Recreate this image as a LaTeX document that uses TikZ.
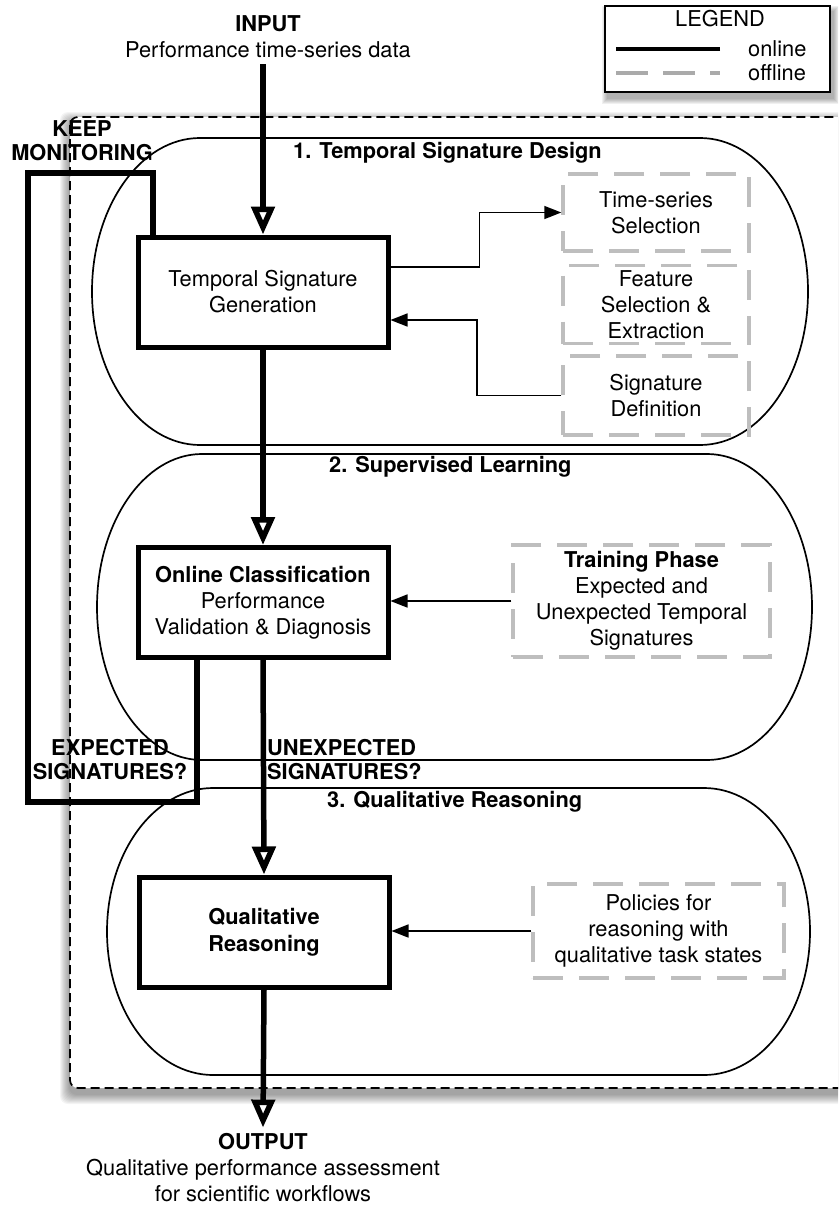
\documentclass[tikz,border=0pt]{standalone}
\usepackage{fontspec}
\setmainfont{TeX Gyre Heros}
\usepackage{tikz}
\usetikzlibrary{arrows.meta,positioning,calc}
\definecolor{cOffline}{RGB}{190,190,190}
\definecolor{cLegOff}{RGB}{170,170,170}

\begin{document}
\begin{tikzpicture}[x=1pt, y=-1pt,
  every node/.style={font=\fontsize{21.8}{26}\selectfont, align=center, inner sep=0pt},
  mainbox/.style={draw, line width=5pt, minimum width=250pt, minimum height=110pt, fill=white},
  offbox/.style={draw=cOffline, line width=3.5pt, dash pattern=on 30pt off 16pt},
  online/.style={line width=5.5pt},
  onarrow/.style={online, -{Triangle[open, length=28pt, width=23pt]}},
  thinarrow/.style={line width=1.7pt, -{Triangle[length=17pt, width=13pt]}},
  stage/.style={draw, line width=1.7pt},
  stagetag/.style={anchor=west, font=\fontsize{21.8}{26}\selectfont\bfseries},
  bigtag/.style={font=\fontsize{21.8}{24}\selectfont\bfseries}
]
\useasboundingbox (0,0) rectangle (838,1207);
\clip (0,0) rectangle (838,1207);

% outer dashed frame with soft shadow
\foreach \s in {1,...,10}
  \fill[black, opacity=0.045, rounded corners=8pt] (70-\s,117-\s+5) rectangle (890+\s,1088+\s+6);
\draw[fill=white, line width=1.7pt, dash pattern=on 9pt off 5pt, rounded corners=8pt]
  (70,117) rectangle (890,1088);

% the three stages
\draw[stage] (200,138) -- (700,138) .. controls (759.6,138) and (808,206.7) .. (808,291.5)
  .. controls (808,376.3) and (759.6,445) .. (700,445) -- (200,445)
  .. controls (140.4,445) and (92,376.3) .. (92,291.5)
  .. controls (92,206.7) and (140.4,138) .. (200,138) -- cycle;
\draw[stage] (202,454) -- (707,454) .. controls (765,454) and (812,522.5) .. (812,607)
  .. controls (812,691.5) and (765,760) .. (707,760) -- (202,760)
  .. controls (144,760) and (97,691.5) .. (97,607)
  .. controls (97,522.5) and (144,454) .. (202,454) -- cycle;
\draw[stage] (213,788) -- (704,788) .. controls (762.5,788) and (810,852.2) .. (810,931.5)
  .. controls (810,1010.8) and (762.5,1075) .. (704,1075) -- (213,1075)
  .. controls (154.5,1075) and (107,1010.8) .. (107,931.5)
  .. controls (107,852.2) and (154.5,788) .. (213,788) -- cycle;

\node[stagetag] (tag1) at (293,153) {1. Temporal Signature Design};
\node[stagetag] (tag2) at (329,467) {2. Supervised Learning};
\node[stagetag] (tag3) at (327,802) {3. Qualitative Reasoning};

% main flow
\node (inp) at (268,37) {\textbf{INPUT}\\Performance time-series data};
\node[mainbox] (tsg) at (263,292) {Temporal Signature\\Generation};
\node[mainbox] (ocls) at (263,602.5) {\textbf{Online Classification}\\Performance\\Validation \& Diagnosis};
\node[mainbox, font=\fontsize{21.8}{27}\selectfont\bfseries] (qr) at (264,932) {Qualitative\\Reasoning};
\node (outp) at (263,1168) {\textbf{OUTPUT}\\Qualitative performance assessment\\for scientific workflows};

% offline boxes
\node[offbox, minimum width=186pt, minimum height=77pt] (tss) at (656,212.5) {Time-series\\Selection};
\node[offbox, minimum width=186pt, minimum height=78pt, below=11pt of tss] (fse) {Feature\\Selection \&\\Extraction};
\node[offbox, minimum width=186pt, minimum height=79pt, below=9pt of fse] (sdef) {Signature\\Definition};
\node[offbox, minimum width=257pt, minimum height=112pt] (train) at (641.5,601) {\textbf{Training Phase}\\Expected and\\Unexpected Temporal\\Signatures};
\node[offbox, minimum width=251pt, minimum height=94pt] (pol) at (658.5,931) {Policies for\\reasoning with\\qualitative task states};

% connectors
\draw[onarrow] (tsg.north |- inp.south) ++(0,6) -- (tsg.north);
\draw[onarrow] (tsg.south) -- (ocls.north);
\draw[onarrow] (ocls.south) -- (qr.north);
\draw[onarrow] (qr.south) -- ([yshift=6pt]outp.north);

\draw[thinarrow] ([yshift=25pt]tsg.east) -- ++(89,0) |- (tss.west);
\draw[thinarrow] (sdef.west) -- ++(-84,0) |- ([yshift=-28pt]tsg.east);
\draw[thinarrow] (train.west) -- (train.west -| ocls.east);
\draw[thinarrow] (pol.west) -- (pol.west -| qr.east);

% keep monitoring loop
\coordinate (kmlow) at (28,802);
\coordinate (kmtop) at (153,173);
\draw[online] ([xshift=-66pt]ocls.south) |- (kmlow) |- (kmtop) -- (kmtop |- tsg.north);

\node[bigtag] (keep) at (82,141) {KEEP\\MONITORING};
\node[bigtag] (expd) at (110,760) {EXPECTED\\SIGNATURES?};
\node[bigtag, anchor=west, align=left] (unexp) at (267,760) {UNEXPECTED\\SIGNATURES?};

% legend
\foreach \s in {1,...,6}
  \fill[black, opacity=0.06] (605-\s+3,6-\s+6) rectangle (830+\s+3,92+\s+6);
\node[draw, fill=white, line width=1.7pt, minimum width=225pt, minimum height=86pt] (legend) at (717.5,49) {};
\node (legtitle) at (720,19) {LEGEND};
\node[anchor=west] (legon) at (748,49) {online};
\node[anchor=west] (legoff) at (748,73) {offline};
\draw[line width=4pt] ([xshift=-28pt]legon.west) -- ++(-104,0);
\draw[cLegOff, line width=3.5pt, dash pattern=on 32pt off 15pt] ([xshift=-132pt]legoff.west) -- ++(104,0);
\end{tikzpicture}
\end{document}
